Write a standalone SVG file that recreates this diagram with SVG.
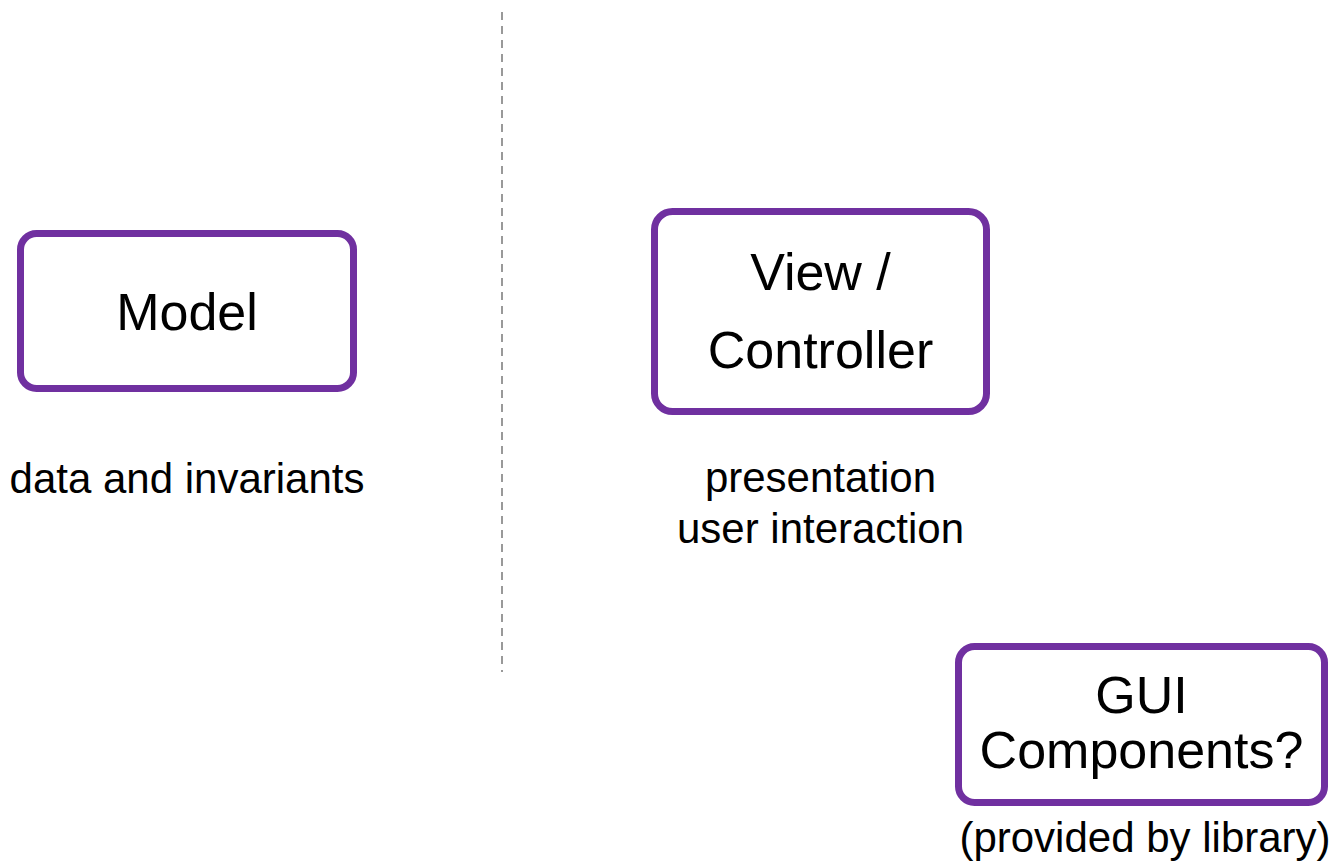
<svg xmlns="http://www.w3.org/2000/svg" width="1341" height="861" viewBox="0 0 1341 861">
<style>
.box{fill:#fff;stroke:#7030a0;stroke-width:7}
.lbl{font-family:"Liberation Sans",Arial,sans-serif;font-size:52px;fill:#000;text-anchor:middle}
.cap{font-family:"Liberation Sans",Arial,sans-serif;font-size:42px;fill:#000;text-anchor:middle}
.sep{stroke:#999;stroke-width:2;stroke-dasharray:8 6;fill:none}
</style>
<rect width="1341" height="861" fill="#fff"/>
<g id="connectors">
<line class="sep" x1="502" y1="12" x2="502" y2="672"/>
</g>
<g id="model">
<rect class="box" x="20.5" y="233.5" width="333" height="155" rx="16"/>
<text class="lbl" x="187" y="330">Model</text>
<text class="cap" x="187" y="493">data and invariants</text>
</g>
<g id="view-controller">
<rect class="box" x="654.5" y="211.5" width="332" height="200" rx="18"/>
<text class="lbl" x="820.5" y="290">View /</text>
<text class="lbl" x="820.5" y="368">Controller</text>
<text class="cap" x="820.5" y="492">presentation</text>
<text class="cap" x="820.5" y="543">user interaction</text>
</g>
<g id="gui-components">
<rect class="box" x="958.5" y="646.5" width="366" height="156" rx="16"/>
<text class="lbl" x="1141.5" y="713">GUI</text>
<text class="lbl" x="1141.5" y="768">Components?</text>
<text class="cap" x="1145" y="852">(provided by library)</text>
</g>
</svg>
